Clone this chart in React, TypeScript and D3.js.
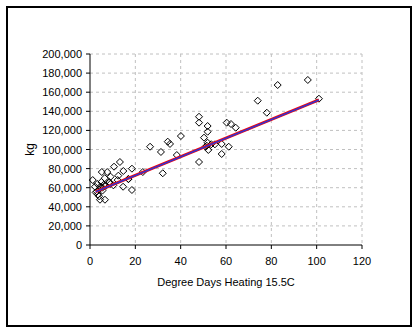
import React from "react";
import * as d3 from "d3";

const xTicks = [0, 20, 40, 60, 80, 100, 120];
const yTicks = [0, 20000, 40000, 60000, 80000, 100000, 120000, 140000, 160000, 180000, 200000];

const degreeDays = [
  1.2, 4.4, 6.6, 5.2, 7.6, 10.6, 13.2, 14.7, 18.5, 18.5, 14.6, 12.5, 12.2, 9.1, 8.4, 10.3, 16.9,
  23.3, 26.5, 31.3, 32.1, 34.3, 35.3, 38.3, 40.1, 48.1, 48.1, 48.1, 50.3, 51.0, 51.9, 51.9, 51.9,
  52.2, 55.1, 58.1, 58.1, 60.3, 62.2, 64.3, 61.2, 74.0, 78.0, 82.8, 96.1, 101.0,
  3.0, 3.5, 4.0, 4.5, 3.2, 5.0, 5.5, 2.5, 6.0, 7.0, 4.0, 8.5, 9.0, 6.5, 5.5, 2.2, 17.0, 51.5, 53.5,
];
const kg = [
  68000, 47400, 47400, 76400, 76400, 82000, 86900, 77500, 79900, 57600, 61000, 72600, 68000, 71500, 65200, 62500, 69100,
  76400, 102900, 97400, 75100, 108200, 105800, 94200, 114100, 134300, 128100, 86900, 112400, 102900, 124600, 118600, 107100,
  99500, 105400, 105800, 95300, 128100, 126700, 122800, 102900, 151100, 138500, 167500, 172800, 153200,
  56000, 53000, 58000, 61000, 64000, 66000, 60000, 55000, 63000, 62000, 51000, 66000, 64000, 70000, 57000, 61000, 69000, 104000, 105500,
];

const trendX = [2.5, 101];
const trendY = [55800, 151900];

const W = 418;
const H = 332;
const left = 90;
const right = 362;
const top = 54;
const bottom = 245;
const font = "'Liberation Sans', Arial, sans-serif";

export default function App() {
  const x = d3.scaleLinear().domain([0, 120]).range([left, right]);
  const y = d3.scaleLinear().domain([0, 200000]).range([bottom, top]);
  const fmt = d3.format(",");
  const trend = trendX.map((v, i) => [x(v), y(trendY[i])] as [number, number]);
  const lineGen = d3.line();
  const diamond = "M0,-3.5L3.5,0L0,3.5L-3.5,0Z";

  return (
    <svg width={W} height={H} style={{ position: "absolute", left: 0, top: 0, background: "#fff" }}>
      <rect x={0} y={0} width={W} height={H} fill="#fff" />
      <rect x={7} y={7} width={404} height={319} fill="none" stroke="#000" strokeWidth={2} />
      {/* gridlines */}
      {xTicks.filter((t) => t > 0).map((t) => (
        <line key={"gx" + t} x1={x(t)} x2={x(t)} y1={top} y2={bottom} stroke="#c0c0c0" strokeDasharray="3,3" />
      ))}
      {yTicks.filter((t) => t > 0).map((t) => (
        <line key={"gy" + t} x1={left} x2={right} y1={y(t)} y2={y(t)} stroke="#c0c0c0" strokeDasharray="3,3" />
      ))}
      {/* axes */}
      <line x1={left} x2={left} y1={top} y2={bottom} stroke="#000" />
      <line x1={left} x2={right} y1={bottom} y2={bottom} stroke="#000" />
      {xTicks.map((t) => (
        <g key={"xt" + t}>
          <line x1={x(t)} x2={x(t)} y1={bottom} y2={bottom + 4} stroke="#000" />
          <text x={x(t)} y={bottom + 20} textAnchor="middle" fontFamily={font} fontSize={11}>{t}</text>
        </g>
      ))}
      {yTicks.map((t) => (
        <g key={"yt" + t}>
          <line x1={left - 4} x2={left} y1={y(t)} y2={y(t)} stroke="#000" />
          <text x={left - 8} y={y(t) + 4} textAnchor="end" fontFamily={font} fontSize={11}>{fmt(t)}</text>
        </g>
      ))}
      {/* points */}
      {degreeDays.map((d, i) => (
        <path key={"p" + i} d={diamond} transform={`translate(${x(d)},${y(kg[i])})`} fill="none" stroke="#000" strokeWidth={1} />
      ))}
      {/* trendlines */}
      <path d={lineGen(trend) || ""} stroke="#ff0000" strokeWidth={3} fill="none" />
      <path d={lineGen(trend) || ""} stroke="#3333cc" strokeWidth={1.5} fill="none" />
      {/* titles */}
      <text x={(left + right) / 2} y={286} textAnchor="middle" fontFamily={font} fontSize={11}>Degree Days Heating 15.5C</text>
      <text transform={`translate(34,${(top + bottom) / 2}) rotate(-90)`} textAnchor="middle" fontFamily={font} fontSize={12}>kg</text>
    </svg>
  );
}
